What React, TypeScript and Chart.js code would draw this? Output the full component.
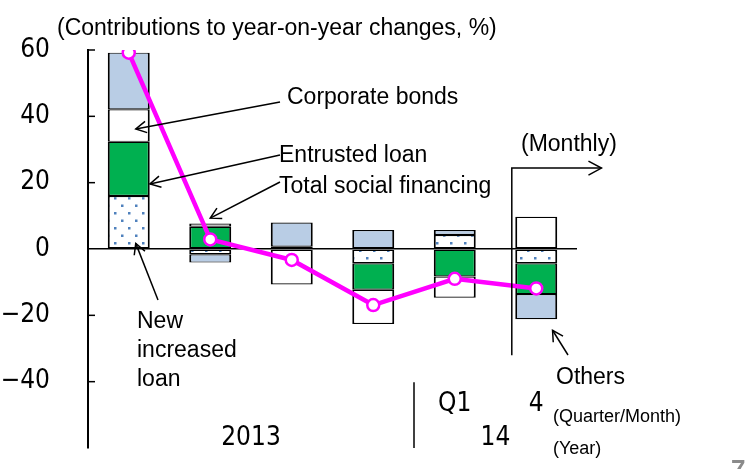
import React, { useEffect, useRef } from "react";
import { Chart, registerables } from "chart.js";

Chart.register(...registerables);

// ---- data ----
const CATEGORIES = ["", "", "", "", "Q1", "4"];
const YEAR_LABELS = ["2013", "14"];
const YEAR_FIRST = [0, 4];
const YEAR_LAST = [3, 5];
const NEW_LOAN = [16.0, -1.6, 0.3, -4.3, 4.2, -4.3];
const ENTRUSTED = [16.3, 6.7, 0.4, -8.0, -8.3, -9.3];
const BONDS = [9.8, 1.0, -10.7, -10.3, -6.4, 9.7];
const OTHERS = [17.1, -2.5, 7.3, 5.7, 1.5, -7.6];
const TOTAL = [59.2, 2.9, -3.3, -16.9, -9.0, -11.9];
const Y_TICKS = [-60, -40, -20, 0, 20, 40, 60];
const Y_TICK_LABELS = ["", "\u221240", "\u221220", "0", "20", "40", "60"];

const TITLE = "(Contributions to year-on-year changes, %)";

const SANS = "'Liberation Sans', Arial, sans-serif";
const NARROW =
  "'Liberation Sans Narrow', 'DejaVu Sans Condensed', 'Roboto Condensed', 'Liberation Sans', Arial, sans-serif";

function makeDotPattern(): CanvasPattern | string {
  const c = document.createElement("canvas");
  c.width = 14;
  c.height = 15;
  const g = c.getContext("2d");
  if (!g) return "#ffffff";
  g.fillStyle = "#ffffff";
  g.fillRect(0, 0, 14, 15);
  g.fillStyle = "#4F81BD";
  g.fillRect(2, 2, 2.5, 2.5);
  g.fillRect(9, 9.5, 2.5, 2.5);
  const p = g.createPattern(c, "repeat");
  return p || "#ffffff";
}

function arrowLine(ctx: CanvasRenderingContext2D, x1: number, y1: number, x2: number, y2: number, head = 12) {
  ctx.beginPath();
  ctx.moveTo(x1, y1);
  ctx.lineTo(x2, y2);
  ctx.stroke();
  const a = Math.atan2(y2 - y1, x2 - x1);
  const s = 0.5;
  ctx.beginPath();
  ctx.moveTo(x2 - head * Math.cos(a - s), y2 - head * Math.sin(a - s));
  ctx.lineTo(x2, y2);
  ctx.lineTo(x2 - head * Math.cos(a + s), y2 - head * Math.sin(a + s));
  ctx.stroke();
}

const annotationPlugin = {
  id: "annotations",
  afterDatasetsDraw(chart: any) {
    const ctx: CanvasRenderingContext2D = chart.ctx;
    const xs = chart.scales.x;
    const ys = chart.scales.y;
    const area = chart.chartArea;
    const X = (v: number) => xs.getPixelForValue(v);
    const Y = (v: number) => ys.getPixelForValue(v);
    const step = X(1) - X(0);

    ctx.save();
    // inward tick marks
    ctx.strokeStyle = "#000";
    ctx.lineWidth = 1.5;
    Y_TICKS.forEach((v) => {
      if (v === 0 || v === -60) return;
      ctx.beginPath();
      ctx.moveTo(area.left, Y(v));
      ctx.lineTo(area.left + 7, Y(v));
      ctx.stroke();
    });

    // title
    ctx.fillStyle = "#000";
    ctx.font = `23px ${SANS}`;
    ctx.textAlign = "left";
    ctx.textBaseline = "alphabetic";
    ctx.fillText(TITLE, 57, 35);

    // category labels
    ctx.font = `26px ${NARROW}`;
    ctx.textAlign = "center";
    CATEGORIES.forEach((c, i) => {
      if (c) ctx.fillText(c, X(i), 411);
    });
    YEAR_LABELS.forEach((c, i) => {
      ctx.fillText(c, (X(YEAR_FIRST[i]) + X(YEAR_LAST[i])) / 2, 445);
    });

    // year separator
    ctx.lineWidth = 1.5;
    ctx.beginPath();
    ctx.moveTo(X(3.5), Y(-40.2));
    ctx.lineTo(X(3.5), area.bottom);
    ctx.stroke();

    // monthly bracket
    ctx.beginPath();
    ctx.moveTo(X(4.7), Y(-32));
    ctx.lineTo(X(4.7), Y(24.4));
    ctx.lineTo(X(5.8), Y(24.4));
    ctx.stroke();
    ctx.beginPath();
    ctx.moveTo(X(5.8) - 13, Y(24.4) - 7);
    ctx.lineTo(X(5.8), Y(24.4));
    ctx.lineTo(X(5.8) - 13, Y(24.4) + 7);
    ctx.stroke();

    // arrows
    ctx.lineWidth = 1.5;
    arrowLine(ctx, 280, 102, X(0) + 7, Y(36.2));
    arrowLine(ctx, 280, 155, X(0) + step * 0.26, Y(19.6));
    arrowLine(ctx, 280, 182, X(1), Y(9.3));
    arrowLine(ctx, 158, 300, X(0) + 7, Y(1.7));
    arrowLine(ctx, 568, 355, X(5) + step * 0.2, Y(-24.5));

    // annotation texts
    ctx.font = `23px ${SANS}`;
    ctx.textAlign = "left";
    ctx.fillText("Corporate bonds", 287, 104);
    ctx.fillText("Entrusted loan", 279, 162);
    ctx.fillText("Total social financing", 279, 193);
    ctx.fillText("New", 137, 327.5);
    ctx.fillText("increased", 137, 356.5);
    ctx.fillText("loan", 137, 386);
    ctx.fillText("Others", 556, 383.5);
    ctx.fillText("(Monthly)", 521, 150.5);
    ctx.font = `18px ${SANS}`;
    ctx.fillText("(Quarter/Month)", 553, 422);
    ctx.fillText("(Year)", 553, 454);

    // page number
    ctx.fillStyle = "#8a8a8a";
    ctx.font = `bold 26px ${SANS}`;
    ctx.fillText("7", 731, 478);
    ctx.restore();
  },
};

export default function App() {
  const ref = useRef<HTMLCanvasElement>(null);

  useEffect(() => {
    document.body.style.margin = "0";
    const canvas = ref.current;
    if (!canvas) return;
    const dots = makeDotPattern();
    const barCommon = {
      type: "bar" as const,
      stack: "parts",
      order: 1,
      borderColor: "#000000",
      borderWidth: { left: 2, right: 2, top: 1.2, bottom: 1.2 },
      borderSkipped: false,
      categoryPercentage: 1,
      barPercentage: 0.515,
    };
    const chart = new Chart(canvas, {
      type: "bar",
      data: {
        labels: CATEGORIES,
        datasets: [
          { ...barCommon, label: "New increased loan", data: NEW_LOAN, backgroundColor: dots as any },
          { ...barCommon, label: "Entrusted loan", data: ENTRUSTED, backgroundColor: "#00B050" },
          { ...barCommon, label: "Corporate bonds", data: BONDS, backgroundColor: "#FFFFFF" },
          { ...barCommon, label: "Others", data: OTHERS, backgroundColor: "#B9CDE5" },
          {
            type: "line" as const,
            label: "Total social financing",
            data: TOTAL,
            stack: "total",
            order: 0,
            borderColor: "#FF00FF",
            borderWidth: 4.5,
            tension: 0,
            pointRadius: 6,
            pointBackgroundColor: "#FFFFFF",
            pointBorderColor: "#FF00FF",
            pointBorderWidth: 2.5,
          } as any,
        ],
      },
      options: {
        responsive: false,
        animation: false,
        events: [],
        layout: { padding: { top: 50, bottom: 21, right: 172, left: 0 } },
        plugins: {
          legend: { display: false },
          tooltip: { enabled: false },
          title: { display: false },
        },
        scales: {
          x: { display: false, stacked: true, offset: true },
          y: {
            stacked: true,
            min: -60,
            max: 60,
            afterBuildTicks: (s: any) => {
              s.ticks = Y_TICKS.map((v) => ({ value: v }));
            },
            afterFit: (s: any) => {
              s.width = 88;
            },
            ticks: {
              callback: (v: any) => {
                const i = Y_TICKS.indexOf(Number(v));
                return i >= 0 ? Y_TICK_LABELS[i] : "";
              },
              font: { family: NARROW, size: 26 },
              color: "#000000",
              padding: 0,
            },
            grid: {
              drawTicks: true,
              tickLength: 38,
              tickColor: "rgba(0,0,0,0)",
              color: (c: any) => (c.tick && c.tick.value === 0 ? "#000000" : "rgba(0,0,0,0)"),
              lineWidth: 1.5,
            },
            border: { display: true, color: "#000000", width: 2 },
          },
        },
      },
      plugins: [annotationPlugin],
    } as any);
    return () => chart.destroy();
  }, []);

  return (
    <div style={{ width: 749, height: 469, position: "relative", overflow: "hidden", background: "#fff" }}>
      <canvas ref={ref} width={749} height={469} style={{ display: "block" }} />
    </div>
  );
}
